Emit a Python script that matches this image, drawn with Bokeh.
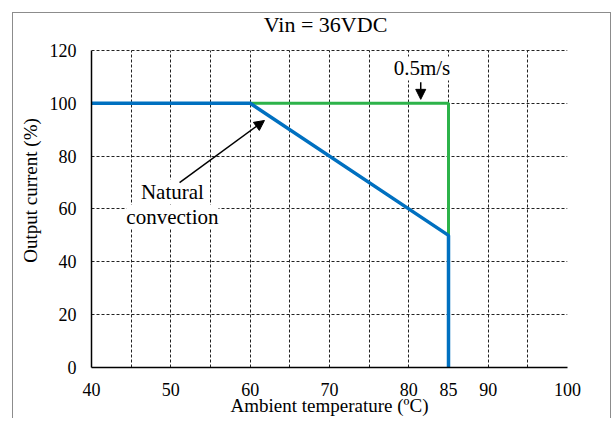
from bokeh.plotting import figure
from bokeh.models import Range1d, FixedTicker, Arrow, NormalHead, Label, LabelSet, ColumnDataSource
from bokeh.embed import file_html
from bokeh.resources import INLINE

# ---- data -------------------------------------------------------------
title_text = "Vin = 36VDC"
x_label = "Ambient temperature (ºC)"
y_label = "Output current (%)"

x_ticks = [40, 45, 50, 55, 60, 65, 70, 75, 80, 85, 90, 95, 100]
x_tick_labels = ["40", "", "50", "", "60", "", "70", "", "80", "85", "90", "", "100"]
y_ticks = [0, 20, 40, 60, 80, 100, 120]
y_min, y_max = 0, 120

natural_x = [40, 60, 85, 85]
natural_y = [100, 100, 50, 0]
airflow_x = [60, 85, 85]
airflow_y = [100, 100, 50]

airflow_text = ["0.5m/s"]
airflow_text_x = [81.65]
airflow_text_y = [113.2]
airflow_arrow = (81.5, 108.0, 81.5, 101.5)

natural_text = ["Natural", "convection"]
natural_text_x = [50.2, 50.2]
natural_text_y = [66.6, 57.1]
natural_arrow = (51.1, 70.0, 61.8, 93.5)

title_pos = (69.5, 129.8)

BLUE = "#0070C0"
GREEN = "#2DB34A"
FONT = "Liberation Serif"

# ---- figure -------------------------------------------------------------
# the frame reaches up to the top edge so the title (a Label) can sit inside it
p = figure(width=599, height=406, x_range=Range1d(40, 100), y_range=Range1d(0, 134),
           output_backend="svg", toolbar_location=None,
           min_border_left=78, min_border_right=45, min_border_top=0, min_border_bottom=52)
p.margin = (12, 0, 0, 12)
p.styles = {"border-top": "1px solid #8c8c8c", "border-left": "1px solid #8c8c8c",
            "border-right": "1px solid #8c8c8c"}

p.add_layout(Label(x=title_pos[0], y=title_pos[1], text=title_text,
                   text_font=FONT, text_font_size="22px", text_color="black",
                   text_align="center", text_baseline="middle"))

p.outline_line_color = None
p.background_fill_color = "white"
p.border_fill_color = "white"

p.xaxis.ticker = FixedTicker(ticks=x_ticks)
p.xaxis.major_label_overrides = {t: l for t, l in zip(x_ticks, x_tick_labels)}
p.yaxis.ticker = FixedTicker(ticks=y_ticks)
p.yaxis.bounds = (y_min, y_max)
for ax in (p.xaxis, p.yaxis):
    ax.major_tick_out = 0
    ax.major_tick_in = 0
    ax.minor_tick_out = 0
    ax.minor_tick_in = 0
    ax.axis_line_color = "black"
    ax.axis_line_width = 1.5
    ax.major_label_text_font = FONT
    ax.major_label_text_font_size = "18px"
    ax.major_label_text_color = "black"
    ax.axis_label_text_font = FONT
    ax.axis_label_text_font_size = "19px"
    ax.axis_label_text_font_style = "normal"
    ax.axis_label_text_color = "black"

p.xaxis.axis_label = x_label
p.yaxis.axis_label = y_label
p.xaxis.major_label_standoff = 15
p.xaxis.axis_label_standoff = -4
p.yaxis.major_label_standoff = 15
p.yaxis.axis_label_standoff = 6

p.xgrid.ticker = FixedTicker(ticks=x_ticks)
p.ygrid.ticker = FixedTicker(ticks=y_ticks)
for g in (p.xgrid, p.ygrid):
    g.grid_line_color = "#222222"
    g.grid_line_dash = "3 2"
    g.grid_line_width = 1

try:
    p.xgrid.cross_bounds = (y_min, y_max)
except AttributeError:
    p.xgrid.visible = False
    p.segment(x0=x_ticks, y0=[y_min] * len(x_ticks), x1=x_ticks, y1=[y_max] * len(x_ticks),
              line_color="#222222", line_dash="3 2", line_width=1)

p.line(airflow_x, airflow_y, line_color=GREEN, line_width=3)
p.line(natural_x, natural_y, line_color=BLUE, line_width=3.5)

for xs, ys, ts in ((airflow_text_x, airflow_text_y, airflow_text),
                   (natural_text_x, natural_text_y, natural_text)):
    src = ColumnDataSource(dict(x=xs, y=ys, t=ts))
    p.add_layout(LabelSet(x="x", y="y", text="t", source=src, text_font=FONT,
                          text_font_size="21px", text_align="center", text_baseline="middle",
                          text_color="black", background_fill_color="white"))

for (xs, ys, xe, ye) in (airflow_arrow, natural_arrow):
    p.add_layout(Arrow(x_start=xs, y_start=ys, x_end=xe, y_end=ye, line_width=1.5,
                       line_color="black",
                       end=NormalHead(size=10, fill_color="black", line_color="black")))

open("out.html", "w").write(file_html(p, INLINE))
